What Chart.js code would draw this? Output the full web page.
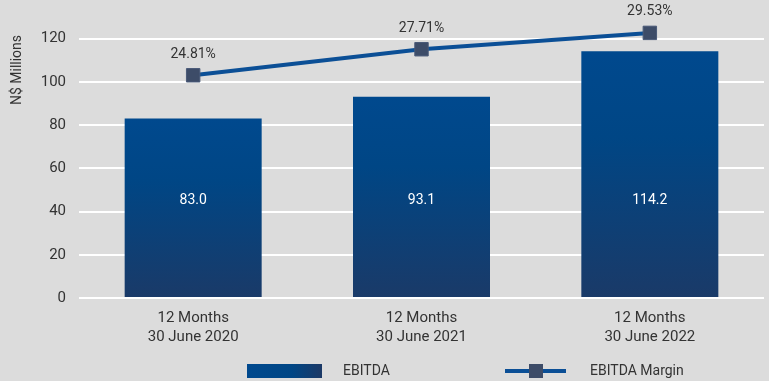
<!DOCTYPE html>
<html><head><meta charset="utf-8">
<script src="https://cdn.jsdelivr.net/npm/chart.js@4/dist/chart.umd.min.js"></script>
<style>html,body{margin:0;padding:0;background:#dcdcdc;}#wrap{width:769px;height:381px;}</style>
</head><body><div id="wrap"><canvas id="c" width="769" height="381"></canvas></div>
<script>
const categories = [["12 Months","30 June 2020"],["12 Months","30 June 2021"],["12 Months","30 June 2022"]];
const ebitda = [83.0, 93.1, 114.2];
const ebitdaLabels = ["83.0","93.1","114.2"];
const margin = [24.81, 27.71, 29.53];
const marginLabels = ["24.81%","27.71%","29.53%"];
const yTicks = [0,20,40,60,80,100,120];

const FONT = "Roboto";
function barGradient(ctx){
  const chart = ctx.chart;
  const y = chart.scales.y;
  if(!y || ctx.raw === undefined) return '#004a8f';
  const top = y.getPixelForValue(ctx.raw);
  const bot = y.getPixelForValue(0);
  if(!isFinite(top) || !isFinite(bot) || top === bot) return '#004a8f';
  const g = chart.ctx.createLinearGradient(0, top, 0, bot);
  g.addColorStop(0, '#00498e');
  g.addColorStop(0.35, '#004685');
  g.addColorStop(1, '#1a3a68');
  return g;
}
const overlay = {
  id:'overlay',
  afterDatasetsDraw(chart){
    const c = chart.ctx, xs = chart.scales.x, y = chart.scales.y;
    c.save();
    c.textAlign='center'; c.textBaseline='middle';
    c.font = '14px ' + FONT;
    c.fillStyle = '#ffffff';
    ebitda.forEach((v,i)=>{ c.fillText(ebitdaLabels[i], xs.getPixelForValue(i), y.getPixelForValue(45)); });
    c.fillStyle = '#333333';
    const meta = chart.getDatasetMeta(1);
    margin.forEach((v,i)=>{ const p = meta.data[i]; c.fillText(marginLabels[i], p.x, p.y - 21); });
    c.save(); c.translate(17, 70); c.rotate(-Math.PI/2); c.font='14px '+FONT; c.fillStyle='#333'; c.fillText('N$ Millions',0,0); c.restore();
    const ly = 371;
    const lg = c.createLinearGradient(247,0,322,0); lg.addColorStop(0,'#00498e'); lg.addColorStop(0.6,'#004685'); lg.addColorStop(1,'#1c3966');
    c.fillStyle = lg; c.fillRect(247, 364, 75, 14);
    c.font='14px '+FONT; c.fillStyle='#333'; c.textAlign='left';
    c.fillText('EBITDA', 343, ly);
    c.strokeStyle='#0b4f96'; c.lineWidth=4; c.beginPath(); c.moveTo(505,ly); c.lineTo(566,ly); c.stroke();
    c.fillStyle='#3d4c68'; c.fillRect(529,364,14,14);
    c.fillStyle='#333'; c.fillText('EBITDA Margin', 590, ly);
    c.restore();
  }
};
new Chart(document.getElementById('c'), {
  data:{
    labels: categories,
    datasets:[
      {type:'bar', label:'EBITDA', data: ebitda, backgroundColor: barGradient, barPercentage:0.6, categoryPercentage:1, order:2, yAxisID:'y'},
      {type:'line', label:'EBITDA Margin', data: margin, yAxisID:'y2', borderColor:'#0b4f96', borderWidth:4, pointStyle:'rect', pointRadius:9.5, pointHoverRadius:9.5, pointBackgroundColor:'#3d4c68', pointBorderColor:'#4a5a78', pointBorderWidth:1, order:1, tension:0, clip:false}
    ]
  },
  options:{
    responsive:false, animation:false, devicePixelRatio:1,
    layout:{autoPadding:false, padding:{top:17,right:5,left:0,bottom:0}},
    plugins:{legend:{display:false}, tooltip:{enabled:false}},
    scales:{
      x:{offset:true, grid:{display:false}, border:{display:false},
         ticks:{color:'#333', font:{family:FONT,size:15, lineHeight:1.25}, padding:3, maxRotation:0},
         afterFit(s){ s.height = 83; s.paddingLeft = 0; s.paddingRight = 0; }},
      y:{min:0, max:130, position:'left',
         afterBuildTicks(s){ s.ticks = yTicks.map(v=>({value:v})); },
         afterFit(s){ s.width = 79; s.paddingTop = 0; s.paddingBottom = 0; },
         grid:{color:'#ffffff', lineWidth:2, drawTicks:false},
         border:{display:false},
         ticks:{color:'#333', font:{family:FONT,size:15}, padding:13}},
      y2:{display:false, min:0, max:31.3}
    }
  },
  plugins:[overlay]
});
</script></body></html>
